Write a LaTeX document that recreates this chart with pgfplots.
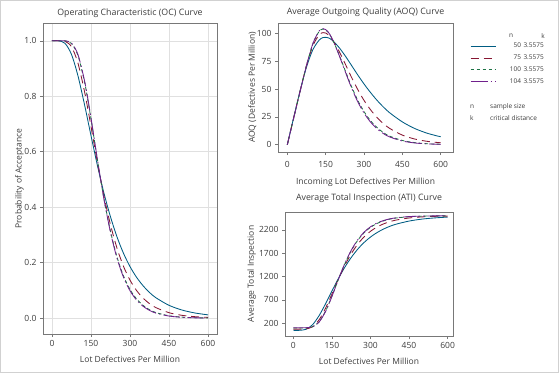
\documentclass[border=0pt]{standalone}
\usepackage{fontspec}
\setmainfont{Open Sans}
\usepackage{pgfplots}
\usepackage{pgfplotstable}
\pgfplotsset{compat=1.18}
\definecolor{c50}{RGB}{0,92,130}
\definecolor{c75}{RGB}{135,22,50}
\definecolor{c100}{RGB}{30,115,70}
\definecolor{c104}{RGB}{112,32,140}
\definecolor{framec}{RGB}{120,120,120}
\definecolor{txt}{RGB}{60,60,60}

\pgfplotstableread{
p oc50 oc75 oc100 oc104
0 1.0000 1.0000 1.0000 1.0000
25 0.9998 1.0000 1.0000 1.0000
50 0.9907 0.9980 0.9996 0.9997
75 0.9506 0.9784 0.9902 0.9914
100 0.8731 0.9190 0.9467 0.9501
125 0.7701 0.8173 0.8520 0.8567
140 0.7030 0.7431 0.7746 0.7791
150 0.6581 0.6911 0.7177 0.7215
160 0.6141 0.6387 0.6591 0.6620
175 0.5490 0.5599 0.5691 0.5704
200 0.4502 0.4391 0.4298 0.4284
225 0.3653 0.3366 0.3131 0.3097
250 0.2931 0.2524 0.2206 0.2162
275 0.2339 0.1869 0.1522 0.1475
300 0.1861 0.1372 0.1035 0.0991
325 0.1478 0.1001 0.0696 0.0657
350 0.1173 0.0727 0.0464 0.0432
375 0.0927 0.0524 0.0305 0.0281
400 0.0735 0.0379 0.0201 0.0182
450 0.0464 0.0198 0.0087 0.0077
500 0.0294 0.0103 0.0038 0.0032
550 0.0187 0.0054 0.0016 0.0013
600 0.0120 0.0029 0.0007 0.0006
}\octable

\pgfplotstableread{
p a50 a75 a100 a104
0 0 0 0 0
25 24.5 24.3 24.0 24.0
50 48.5 48.4 48.0 47.9
75 69.9 71.2 71.3 71.3
100 85.6 89.1 90.9 91.1
125 94.3 99.1 102.2 102.6
140 96.5 100.9 104.1 104.5
150 96.7 100.6 103.4 103.7
160 96.3 99.1 101.2 101.5
175 94.2 95.0 95.6 95.7
200 88.2 85.2 82.5 82.1
225 80.5 73.5 67.6 66.8
250 71.8 61.2 52.9 51.8
275 63.0 49.9 40.2 38.9
300 54.7 39.9 29.8 28.5
325 47.1 31.6 21.7 20.5
350 40.2 24.7 15.6 14.5
375 34.1 19.1 11.0 10.1
400 28.8 14.7 7.7 7.0
450 20.5 8.6 3.8 3.3
500 14.4 5.0 1.8 1.5
550 10.1 2.9 0.8 0.7
600 7.1 1.7 0.4 0.3
}\aoqtable

\pgfplotstableread{
p t50 t75 t100 t104
0 50 75 100 104
25 50 75 100 104
50 73 80 101 105
75 171 127 124 125
100 361 271 228 224
125 613 518 455 447
140 778 698 641 633
150 888 824 778 771
160 995 951 918 914
175 1155 1142 1134 1133
200 1397 1435 1468 1474
225 1605 1684 1749 1758
250 1782 1888 1971 1982
275 1927 2047 2135 2147
300 2044 2167 2252 2263
325 2138 2257 2333 2343
350 2213 2324 2389 2396
375 2273 2373 2427 2433
400 2320 2408 2452 2456
450 2386 2452 2479 2482
500 2428 2475 2491 2492
550 2454 2487 2496 2497
600 2471 2493 2498 2499
}\atitable

\pgfplotsset{
  panel/.style={
    scale only axis, anchor=south west,
    axis line style={draw=framec, line width=0.6pt},
    tick align=outside, tick pos=left,
    major tick length=3pt,
    tick style={draw=framec, line width=0.5pt},
    tick label style={font=\fontsize{8.5}{10}\selectfont, text=txt},
    label style={font=\fontsize{8.5}{10}\selectfont, text=txt},
    title style={font=\fontsize{8.8}{11}\selectfont, text=txt, anchor=center, yshift=-6pt},
    /pgf/number format/assume math mode=true,
    /pgf/number format/1000 sep={},
    xtick={0,150,300,450,600},
    every axis plot/.append style={line width=0.85pt, smooth, tension=0.5},
    legend image code/.code={\draw[##1] (0pt,0pt) -- (25pt,0pt);},
  },
  s50/.style={c50, solid},
  s75/.style={c75, dash pattern=on 8pt off 5pt},
  s100/.style={c100, dash pattern=on 3.5pt off 2.5pt},
  s104/.style={c104, dash pattern=on 17pt off 3pt on 1.5pt off 3pt},
}

\begin{document}
\begin{tikzpicture}
\path[use as bounding box] (0pt,0pt) rectangle (559pt,373pt);
\draw[black!18, line width=1pt] (0.5pt,0.5pt) rectangle (558.5pt,372.5pt);

% OC curve
\begin{axis}[panel, at={(43pt,39pt)}, width=174pt, height=311pt,
  xmin=-34.6, xmax=634.6, ymin=-0.057, ymax=1.064,
  ytick={0,0.2,0.4,0.6,0.8,1.0},
  yticklabel style={/pgf/number format/fixed, /pgf/number format/fixed zerofill, /pgf/number format/precision=1},
  grid=major, major grid style={black!12, line width=0.5pt},
  title={Operating Characteristic (OC) Curve},
  title style={at={(axis description cs:0.5,1.032)}},
  xlabel={Lot Defectives Per Million},
  x label style={at={(axis description cs:0.5,-0.080)}, anchor=center},
  ylabel={Probability of Acceptance},
  y label style={at={(axis description cs:-0.136,0.5)}, anchor=center},
]
\addplot[s50] table[x=p,y=oc50] {\octable};
\addplot[s75] table[x=p,y=oc75] {\octable};
\addplot[s100] table[x=p,y=oc100] {\octable};
\addplot[s104] table[x=p,y=oc104] {\octable};
\end{axis}

% AOQ curve
\begin{axis}[panel, at={(278pt,221pt)}, width=175pt, height=129pt,
  xmin=-36.4, xmax=648, ymin=-6.6, ymax=109.6,
  ytick={0,25,50,75,100},
  xticklabel style={yshift=-3pt},
  title={Average Outgoing Quality (AOQ) Curve},
  title style={at={(axis description cs:0.5,1.083)}},
  xlabel={Incoming Lot Defectives Per Million},
  x label style={at={(axis description cs:0.5,-0.238)}, anchor=center},
  ylabel={AOQ (Defectives Per Million)},
  y label style={at={(axis description cs:-0.147,0.5)}, anchor=center},
  legend style={draw=none, fill=none, at={(axis description cs:1.097,0.86)}, anchor=north west,
    font=\fontsize{6.5}{7.5}\selectfont, text=txt, inner sep=0pt, row sep=1.5pt,
    cells={anchor=west}},
]
\addplot[s50] table[x=p,y=a50] {\aoqtable};
\addlegendentry{\makebox[23pt][r]{50}\hspace{2.5pt}3.5575}
\addplot[s75] table[x=p,y=a75] {\aoqtable};
\addlegendentry{\makebox[23pt][r]{75}\hspace{2.5pt}3.5575}
\addplot[s100] table[x=p,y=a100] {\aoqtable};
\addlegendentry{\makebox[23pt][r]{100}\hspace{2.5pt}3.5575}
\addplot[s104] table[x=p,y=a104] {\aoqtable};
\addlegendentry{\makebox[23pt][r]{104}\hspace{2.5pt}3.5575}
\end{axis}

% ATI curve
\begin{axis}[panel, at={(285pt,37pt)}, width=168pt, height=124pt,
  xmin=-32.3, xmax=621, ymin=-72, ymax=2580,
  ytick={200,700,1200,1700,2200},
  title={Average Total Inspection (ATI) Curve},
  title style={at={(axis description cs:0.5,1.11)}},
  xlabel={Lot Defectives Per Million},
  x label style={at={(axis description cs:0.5,-0.207)}, anchor=center},
  ylabel={Average Total Inspection},
  y label style={at={(axis description cs:-0.198,0.5)}, anchor=center},
]
\addplot[s50] table[x=p,y=t50] {\atitable};
\addplot[s75] table[x=p,y=t75] {\atitable};
\addplot[s100] table[x=p,y=t100] {\atitable};
\addplot[s104] table[x=p,y=t104] {\atitable};
\end{axis}

% legend header / footer text
\begin{scope}[every node/.style={font=\fontsize{6.5}{7.5}\selectfont, text=txt, inner sep=0pt}]
\node[anchor=center] at (511pt,337.3pt) {n};
\node[anchor=center] at (543pt,337.3pt) {k};
\node[anchor=west] at (470pt,266.3pt) {n};
\node[anchor=west] at (490pt,266.3pt) {sample size};
\node[anchor=west] at (470pt,255.3pt) {k};
\node[anchor=west] at (490pt,255.3pt) {critical distance};
\end{scope}
\end{tikzpicture}
\end{document}
